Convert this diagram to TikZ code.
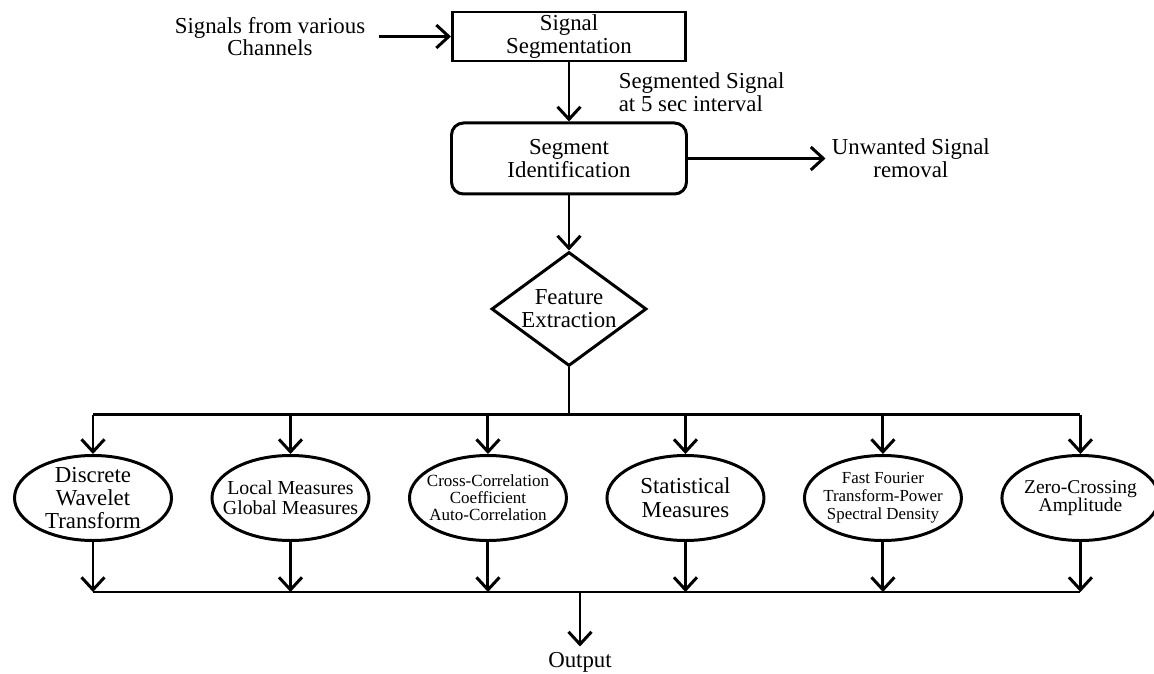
\documentclass[tikz,border=0pt]{standalone}
\usepackage{fontspec}
\setmainfont{Liberation Serif}
\usetikzlibrary{shapes.geometric, arrows.meta, positioning, calc}

\begin{document}
\begin{tikzpicture}[
    node distance=1.2cm,
    every node/.style={font=\fontsize{13}{13}\selectfont},
    box/.style={
        rectangle,
        draw=black,
        line width=1.7pt,
        minimum height=0.98cm,
        minimum width=4.66cm,
        inner sep=0pt,
        align=center
    },
    roundbox/.style={
        box,
        rounded corners=0.24cm,
        minimum height=1.42cm,
        minimum width=4.7cm
    },
    decision/.style={
        diamond,
        draw=black,
        line width=1.7pt,
        aspect=1.36,
        inner sep=0pt,
        minimum width=3.1cm,
        minimum height=2.28cm,
        align=center
    },
    method/.style={
        ellipse,
        draw=black,
        line width=1.7pt,
        minimum width=3.14cm,
        minimum height=1.7cm,
        inner xsep=-0.3cm,
        inner ysep=-0.15cm,
        align=center
    },
    myarrow/.style={
        ->,
        >={Straight Barb[length=2.5mm, width=4.6mm]},
        line width=1.7pt
    },
    myline/.style={
        line width=1.7pt
    },
    mylabel/.style={
        inner sep=0.12cm,
        align=center
    }
]
\useasboundingbox (0,0) rectangle (23.08,-13.48);

% Top chain
\node[box] (segm) at (11.38,-0.73) {Signal\\Segmentation};
\node[mylabel, left=1.59cm of segm] (input) {Signals from various\\Channels};
\node[roundbox, below=1.18cm of segm] (ident) {Segment\\Identification};
\node[mylabel, right=2.75cm of ident] (unwanted) {Unwanted Signal\\removal};
\node[decision, below=1.1cm of ident] (feat) {Feature\\Extraction};

% Label beside the first arrow
\coordinate (mid) at ($(segm.south)!0.5!(ident.north)$);
\node[mylabel, align=left, right=0.87cm of mid] (seglabel) {Segmented Signal\\at 5 sec interval};

% Feature methods
\coordinate[below=0.95cm of feat] (split);
\node[method] (dwt) at (1.86,-9.96) {Discrete\\Wavelet\\Transform};
\node[method, right=0.75cm of dwt, font=\fontsize{11.3}{11.3}\selectfont] (lgm) {Local Measures\\Global Measures};
\node[method, right=0.75cm of lgm, font=\fontsize{9.7}{9.6}\selectfont] (corr) {Cross-Correlation\\Coefficient\\Auto-Correlation};
\node[method, right=0.75cm of corr, font=\fontsize{13}{13.5}\selectfont] (stat) {Statistical\\Measures};
\node[method, right=0.75cm of stat, font=\fontsize{9.6}{10.2}\selectfont] (fft) {Fast Fourier\\Transform-Power\\Spectral Density};
\node[method, right=0.75cm of fft, font=\fontsize{11.1}{10.6}\selectfont] (zc) {Zero-Crossing\\Amplitude};

% Output
\coordinate (merge) at (11.6,-11.84);
\node[mylabel, below=1.09cm of merge] (out) {Output};

% Arrows
\draw[myarrow, shorten <=0.14cm] (input) -- (segm);
\draw[myarrow] (segm) -- (ident);
\draw[myarrow] (ident) -- (unwanted);
\draw[myarrow] (ident) -- (feat);
\draw[myline] (feat) -- (split);
\draw[myline] (dwt |- split) -- (zc |- split);
\foreach \m in {dwt, lgm, corr, stat, fft, zc} {
    \draw[myarrow] (\m |- split) -- (\m);
    \draw[myarrow] (\m) -- (\m |- merge);
}
\draw[myline] (dwt |- merge) -- (zc |- merge);
\draw[myarrow] (merge) -- (out);

\end{tikzpicture}
\end{document}
